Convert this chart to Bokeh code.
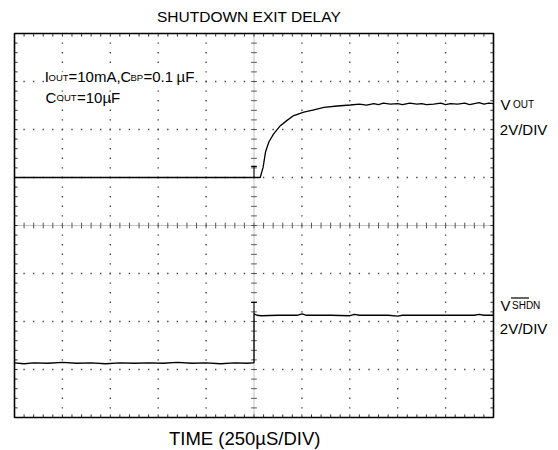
import numpy as np
from bokeh.plotting import figure
from bokeh.models import Range1d
from bokeh.core.properties import value
from bokeh.embed import file_html
from bokeh.resources import INLINE

# ---------------- data (in scope divisions; x: 250us/div, y: 2V/div) ----------------
vout_x = [-5.0, -3.5, -2.0, -1.0, 0.0, 0.13, 0.19, 0.24, 0.31, 0.41, 0.55, 0.69, 0.83,
          1.04, 1.25, 1.46, 1.74, 2.01, 2.2, 2.35, 2.5, 2.6, 2.7, 2.85, 3.0, 3.1, 3.25,
          3.4, 3.5, 3.6, 3.75, 3.9, 4.0, 4.1, 4.25, 4.4, 4.5, 4.6, 4.7, 4.8, 4.9, 5.0]
vout_y = [1.0, 1.0, 1.0, 1.0, 1.0, 1.0, 1.21, 1.53, 1.74, 1.91, 2.08, 2.19, 2.29,
          2.36, 2.41, 2.46, 2.49, 2.51, 2.53, 2.51, 2.54, 2.52, 2.55, 2.53, 2.54, 2.52, 2.55,
          2.53, 2.54, 2.52, 2.53, 2.55, 2.52, 2.54, 2.53, 2.55, 2.52, 2.54, 2.56, 2.53, 2.55, 2.54]

shdn_x = [-5.0, -4.8, -4.6, -4.3, -4.0, -3.7, -3.4, -3.1, -2.8, -2.5, -2.2, -1.9,
          -1.6, -1.3, -1.0, -0.7, -0.4, -0.15, -0.02, 0.0, 0.0, 0.06, 0.15, 0.5, 0.9,
          1.0, 1.1, 1.6, 2.0, 2.1, 2.2, 2.8, 3.0, 3.1, 3.5, 4.0, 4.6, 4.7, 4.8, 5.0]
shdn_y = [-2.86, -2.88, -2.86, -2.87, -2.85, -2.87, -2.86, -2.88, -2.86, -2.87, -2.86, -2.87,
          -2.85, -2.87, -2.86, -2.88, -2.86, -2.87, -2.86, -2.86, -1.84, -1.87, -1.88, -1.87, -1.87,
          -1.84, -1.87, -1.87, -1.88, -1.85, -1.87, -1.87, -1.89, -1.87, -1.87, -1.87, -1.87, -1.85, -1.87, -1.87]

trig_x = [0.0, 0.0]
trig_top = [1.23, -1.60]
trig_base = [1.0, -1.84]

title_text = "SHUTDOWN EXIT DELAY"
xlabel_text = "TIME (250\u00b5S/DIV)"
scale_text = "2V/DIV"

# ---------------- figure: frame covers whole canvas, scope screen drawn as glyphs ----------------
W, H = 556, 449
PX_X, PX_Y = 47.9, 48.0          # pixels per division
CX, CY = 253.5, 225.0            # screen centre of the scope graticule
p = figure(width=W, height=H, title=None,
           x_range=Range1d(-CX / PX_X, (W - CX) / PX_X),
           y_range=Range1d((CY - H) / PX_Y, CY / PX_Y),
           x_axis_type=None, y_axis_type=None,
           output_backend="svg", toolbar_location=None,
           min_border_left=0, min_border_right=0,
           min_border_top=0, min_border_bottom=0)
p.outline_line_color = None
p.background_fill_color = "white"
p.border_fill_color = "white"

# graticule dots
minor_x = np.round(np.arange(-5, 5.0001, 0.2), 6)
minor_y = np.round(np.arange(-4, 4.0001, 0.2), 6)
major_x = [v for v in range(-4, 5) if v != 0]
major_y = [v for v in range(-3, 4) if v != 0]
dx, dy = [], []
for mx in major_x:
    for my in minor_y[1:-1]:
        dx.append(mx); dy.append(my)
for my in major_y:
    for mx in minor_x[1:-1]:
        dx.append(mx); dy.append(my)
p.scatter(dx, dy, marker="square", size=1.4, color="#444444", line_width=0)

# center crosshair
p.line([0, 0], [-4, 4], line_dash="1 1", line_color="#888888", line_width=1)
p.line([-5, 5], [0, 0], line_dash="1 1", line_color="#888888", line_width=1)
p.segment(x0=[-0.06] * len(minor_y), x1=[0.06] * len(minor_y), y0=minor_y, y1=minor_y,
          line_color="#555555", line_width=1)
p.segment(x0=minor_x, x1=minor_x, y0=[-0.06] * len(minor_x), y1=[0.06] * len(minor_x),
          line_color="#555555", line_width=1)

# border ticks
tl = 0.065
p.segment(x0=minor_x, x1=minor_x, y0=[4] * len(minor_x), y1=[4 - tl] * len(minor_x), line_color="#333333")
p.segment(x0=minor_x, x1=minor_x, y0=[-4] * len(minor_x), y1=[-4 + tl] * len(minor_x), line_color="#333333")
p.segment(x0=[-5] * len(minor_y), x1=[-5 + tl] * len(minor_y), y0=minor_y, y1=minor_y, line_color="#333333")
p.segment(x0=[5] * len(minor_y), x1=[5 - tl] * len(minor_y), y0=minor_y, y1=minor_y, line_color="#333333")

# scope screen border
p.quad(left=[-5], right=[5], bottom=[-4], top=[4], fill_color=None,
       line_color="black", line_width=1.6)

# traces
p.line(vout_x, vout_y, line_color="black", line_width=1.3)
p.line(shdn_x, shdn_y, line_color="black", line_width=1.3)

# trigger markers
p.segment(x0=trig_x, x1=trig_x, y0=trig_top, y1=trig_base, line_color="black", line_width=1)
p.segment(x0=[x - 0.06 for x in trig_x], x1=[x + 0.06 for x in trig_x], y0=trig_top, y1=trig_top,
          line_color="black", line_width=1.2)

FONT = value("Liberation Sans")
TEXT_DY = -4.5   # rendering correction


def sx(px):
    return (px - CX) / PX_X


def sy(py):
    return (CY - py) / PX_Y


def lab(px, py, text, size, align="left", bg=None):
    p.text(x=[sx(px)], y=[sy(py + TEXT_DY)], text=[text], text_font=FONT,
           text_font_size=value(size), text_color="black", text_align=align,
           text_baseline="alphabetic", background_fill_color=bg)


MAIN = "15px"
SUB = "9.5px"
# title and x label
lab(248.5, 20.7, title_text, "15.5px", "center")
lab(244.2, 442.0, xlabel_text, "18.5px", "center")

# conditions (white backing hides the graticule dots under the text, as on the scope)
lab(44.3, 80.7, "I", MAIN, bg="white")
lab(48.0, 81.2, "OUT", SUB, bg="white")
lab(68.0, 80.7, "=10mA,", MAIN, bg="white")
lab(120.0, 80.7, "C", MAIN, bg="white")
lab(130.0, 81.2, "BP", SUB, bg="white")
lab(143.0, 80.7, "=0.1", MAIN, bg="white")
lab(176.0, 80.7, "\u00b5F", MAIN, bg="white")
lab(45.0, 101.7, "C", MAIN)
lab(56.0, 101.7, "OUT", SUB)
lab(76.5, 101.7, "=10\u00b5F", MAIN)

# right-side channel labels
lab(500.0, 108.3, "V", MAIN)
lab(512.5, 108.3, "OUT", "10px")
lab(499.3, 133.3, scale_text, MAIN)
lab(500.0, 309.0, "V", MAIN)
lab(511.5, 309.0, "SHDN", "10px")
p.line([sx(510.5), sx(528.5)], [sy(297.5), sy(297.5)], line_color="black", line_width=1.2)
lab(499.3, 332.0, scale_text, MAIN)

open("out.html", "w").write(file_html(p, INLINE))
